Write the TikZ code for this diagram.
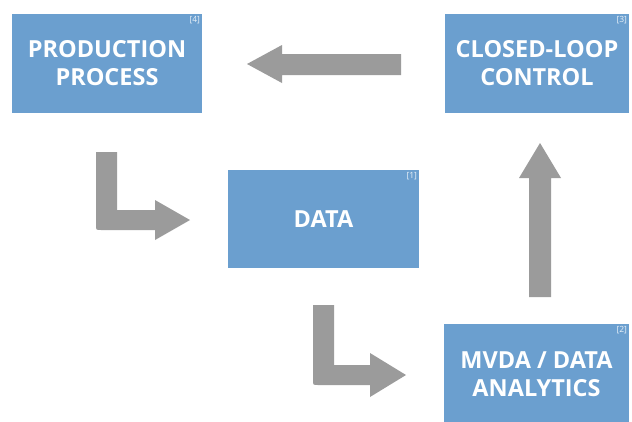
\documentclass[tikz,border=0pt]{standalone}
\usepackage{fontspec}
\setmainfont{Open Sans}
\definecolor{boxblue}{RGB}{107,159,207}
\definecolor{arrowgray}{RGB}{155,155,155}
\begin{document}
\begin{tikzpicture}[x=1pt,y=-1pt,
  block/.style={fill=boxblue, draw=none, inner sep=0pt, text=white,
    font=\fontsize{23.5}{28}\selectfont\bfseries, align=center},
  tag/.style={text=white!85!boxblue, font=\fontsize{8.5}{9}\selectfont, inner sep=1pt, anchor=north east},
  bigarrow/.style={fill=arrowgray, draw=none}]
\useasboundingbox (0,0) rectangle (632,421);
\fill[white] (0,0) rectangle (632,421);

% process blocks
\node[block, minimum width=190pt, minimum height=99pt] (prod) at (107,63.5) {PRODUCTION\\PROCESS};
\node[block, minimum width=184pt, minimum height=99pt] (ctrl) at (537,63.5) {CLOSED-LOOP\\CONTROL};
\node[block, minimum width=191pt, minimum height=98pt] (data) at (323.5,219) {DATA};
\node[block, minimum width=185pt, minimum height=100pt] (mvda) at (536.5,374) {MVDA / DATA\\ANALYTICS};

% reference numbers
\node[tag] at ([xshift=-1pt,yshift=-1pt]prod.north east) {[4]};
\node[tag] at ([xshift=-1pt,yshift=-1pt]ctrl.north east) {[3]};
\node[tag] at ([xshift=-1pt,yshift=-1pt]data.north east) {[1]};
\node[tag] at ([xshift=-1pt,yshift=-1pt]mvda.north east) {[2]};

% control -> production
\fill[bigarrow] (401,54) -- (282,54) -- (282,45) -- (247,64) -- (282,83) -- (282,75) -- (401,75) -- cycle;
% analytics -> control
\fill[bigarrow] (529,297) -- (529,178) -- (519,178) -- (540,143) -- (561,178) -- (551,178) -- (551,297) -- cycle;
% production -> data
\fill[bigarrow] (96,152) -- (117,152) -- (117,210) -- (155,210) -- (155,200) -- (190,220) -- (155,240) -- (155,230)
  -- (101,230) .. controls (96,230) .. (96,225) -- cycle;
% data -> analytics
\fill[bigarrow] (313,305) -- (334,305) -- (334,365) -- (370,365) -- (370,353) -- (406,375) -- (370,397) -- (370,385)
  -- (318,385) .. controls (313,385) .. (313,380) -- cycle;
\end{tikzpicture}
\end{document}
